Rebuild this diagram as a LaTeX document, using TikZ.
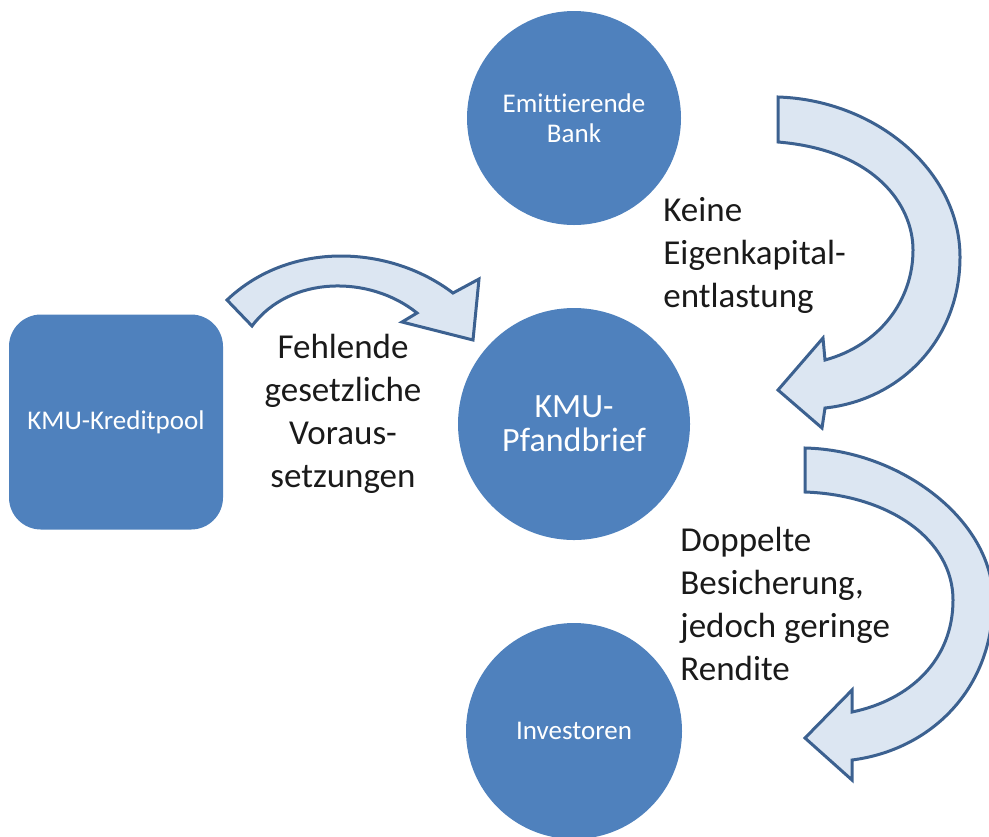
\documentclass[tikz,border=0pt]{standalone}
\usepackage{fontspec}
\setmainfont{Carlito}[Ligatures=NoCommon]
\definecolor{nodeblue}{HTML}{4F81BD}
\definecolor{arrowfill}{HTML}{DCE6F2}
\definecolor{arrowline}{HTML}{3C6190}
\definecolor{textdark}{HTML}{1A1A1A}
\tikzset{
  blob/.style={circle, fill=nodeblue, text=white, align=center, inner sep=0pt},
  poolbox/.style={rectangle, rounded corners=16pt, fill=nodeblue, text=white, align=center, inner sep=0pt},
  label/.style={text=textdark, inner sep=0pt, font=\fontsize{17.5}{21.5}\selectfont},
  bigarrow/.style={fill=arrowfill, draw=arrowline, line width=1.5pt, line join=miter}
}
\begin{document}
\begin{tikzpicture}[x=0.5pt,y=-0.5pt]
\useasboundingbox (0,0) rectangle (989,836);

% nodes
\node[blob, minimum size=107pt, font=\fontsize{13.5}{15}\selectfont] (bank) at (574,118) {Emittierende\\Bank};
\node[blob, minimum size=116pt, font=\fontsize{17}{17}\selectfont] (pfand) at (574,424) {KMU-\\Pfandbrief};
\node[blob, minimum size=108pt, font=\fontsize{13.5}{15}\selectfont] (inv) at (574,731) {Investoren};
\node[poolbox, minimum width=107pt, minimum height=107.5pt, font=\fontsize{13.5}{15}\selectfont] (pool) at (116,422) {KMU-Kreditpool};

% curved block arrows
\path[bigarrow] (227,300) .. controls (290,240) and (390,245) .. (453,293)
  -- (479,279) -- (473,340) -- (402,322) -- (417,313)
  .. controls (370,275) and (290,275) .. (252,326) -- cycle;

\path[bigarrow] (778,97) .. controls (875,100) and (960,170) .. (960,257)
  .. controls (960,340) and (900,400) .. (825,408)
  -- (822,428) -- (778,390) -- (823,338) -- (825,360)
  .. controls (880,345) and (913,300) .. (913,250)
  .. controls (913,205) and (875,150) .. (778,142) -- cycle;

\path[bigarrow] (805,448) .. controls (900,450) and (993,520) .. (993,600)
  .. controls (993,690) and (930,750) .. (852,760)
  -- (852,780) -- (805,738) -- (852,690) -- (852,712)
  .. controls (910,700) and (953,660) .. (953,600)
  .. controls (953,540) and (890,495) .. (805,492) -- cycle;

% labels
\node[label, align=center] (fehl) at (343,414) {Fehlende\\gesetzliche\\Voraus-\\setzungen};
\node[label, align=left, anchor=west] (keine) at (663,255) {Keine\\Eigenkapital-\\entlastung};
\node[label, align=left, anchor=west] (dopp) at (680,604) {Doppelte\\Besicherung,\\jedoch geringe\\Rendite};
\end{tikzpicture}
\end{document}
